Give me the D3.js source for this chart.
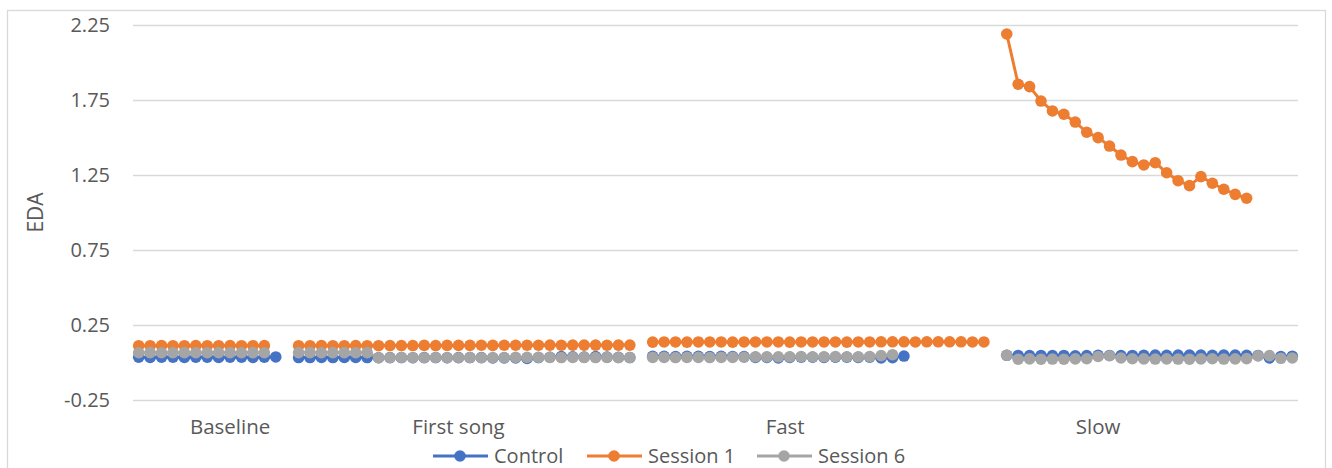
<!DOCTYPE html>
<html>
<head>
<meta charset="utf-8">
<script src="https://cdn.jsdelivr.net/npm/d3@7"></script>
<style>
  html, body { margin: 0; padding: 0; background: #fff; }
  svg { display: block; font-family: "Open Sans", "Liberation Sans", sans-serif; }
</style>
</head>
<body>
<svg id="chart" width="1332" height="468"></svg>
<script>
// ---- data ----
const seriesNames = ["Control", "Session 1", "Session 6"];
const seriesColors = ["#4472C4", "#ED7D31", "#A5A5A5"];

const categoryLabels = ["Baseline", "First song", "Fast", "Slow"];
const categoryLabelPos = [8, 28, 56.6, 84];

const yTicks = [-0.25, 0.25, 0.75, 1.25, 1.75, 2.25];
const yTickLabels = ["-0.25", "0.25", "0.75", "1.25", "1.75", "2.25"];

const N = null;
// 102 categories (index 0..101); null = blank category / missing
const control = [
  // Baseline 0-12
  0.035,0.034,0.035,0.035,0.034,0.035,0.035,0.034,0.035,0.035,0.034,0.035,0.037,
  N,
  // First song 14-43
  0.033,0.033,0.034,0.033,0.034,0.034,0.033,0.032,0.033,0.033,
  0.032,0.033,0.033,0.032,0.033,0.033,0.033,0.030,0.031,0.030,
  0.027,0.033,0.035,0.040,0.038,0.036,0.040,0.036,0.034,0.033,
  N,
  // Fast 45-67
  0.041,0.041,0.040,0.041,0.041,0.040,0.041,0.040,0.039,0.034,
  0.034,0.030,0.034,0.035,0.035,0.034,0.035,0.035,0.034,0.035,
  0.030,0.032,0.043,
  N,N,N,N,N,N,N,N,
  // Slow 76-101
  0.048,0.047,0.046,0.047,0.046,0.047,0.045,0.046,0.048,0.047,
  0.046,0.047,0.048,0.049,0.048,0.049,0.050,0.049,0.048,0.050,
  0.049,0.048,0.047,0.030,0.040,0.042
];
const session1 = [
  // Baseline 0-11
  0.112,0.112,0.113,0.112,0.112,0.113,0.112,0.112,0.113,0.112,0.112,0.113,
  N,N,
  // First song 14-43
  0.112,0.112,0.113,0.112,0.112,0.113,0.112,0.112,0.113,0.113,
  0.113,0.114,0.113,0.114,0.114,0.114,0.115,0.114,0.115,0.115,
  0.115,0.115,0.116,0.115,0.116,0.116,0.116,0.115,0.116,0.116,
  N,
  // Fast 45-74
  0.136,0.137,0.137,0.136,0.137,0.137,0.137,0.136,0.137,0.137,
  0.137,0.137,0.136,0.137,0.137,0.137,0.137,0.136,0.137,0.137,
  0.138,0.138,0.138,0.137,0.138,0.138,0.138,0.138,0.137,0.137,
  N,
  // Slow 76-97
  2.19,1.855,1.839,1.743,1.677,1.655,1.603,1.535,1.499,1.443,
  1.383,1.339,1.317,1.332,1.265,1.212,1.179,1.239,1.195,1.155,
  1.121,1.095,
  N,N,N,N
];
const session6 = [
  // Baseline 0-11
  0.065,0.066,0.065,0.065,0.066,0.065,0.065,0.066,0.065,0.065,0.066,0.065,
  N,N,
  // First song 14-43
  0.066,0.066,0.065,0.066,0.066,0.065,0.066,0.032,0.032,0.033,
  0.032,0.032,0.033,0.032,0.032,0.033,0.032,0.033,0.033,0.034,
  0.034,0.034,0.034,0.033,0.034,0.034,0.033,0.034,0.033,0.033,
  N,
  // Fast 45-66
  0.034,0.034,0.033,0.034,0.034,0.033,0.034,0.034,0.035,0.038,
  0.038,0.038,0.038,0.039,0.038,0.038,0.039,0.038,0.038,0.039,
  0.046,0.052,
  N,N,N,N,N,N,N,N,N,
  // Slow 76-101
  0.048,0.022,0.024,0.022,0.023,0.022,0.024,0.025,0.040,0.045,
  0.030,0.025,0.024,0.023,0.024,0.023,0.022,0.024,0.025,0.023,
  0.024,0.026,0.044,0.046,0.028,0.030
];
const seriesValues = [control, session1, session6];

// ---- layout ----
const svg = d3.select("#chart");
const plot = { left: 133, right: 1298, top: 25, bottom: 400 };
const nCat = control.length;

const x = d3.scaleLinear().domain([-0.5, nCat - 0.5]).range([plot.left, plot.right]);
const y = d3.scaleLinear().domain([-0.25, 2.25]).range([plot.bottom, plot.top]);

const textColor = "#595959";
const gridColor = "#D9D9D9";

// chart border
svg.append("rect")
  .attr("x", 7.5).attr("y", 10.5).attr("width", 1318).attr("height", 480)
  .attr("fill", "none").attr("stroke", gridColor).attr("stroke-width", 1.3);

// gridlines
svg.append("g")
  .selectAll("line").data(yTicks).join("line")
  .attr("x1", plot.left).attr("x2", plot.right)
  .attr("y1", d => Math.round(y(d)) + 0.5).attr("y2", d => Math.round(y(d)) + 0.5)
  .attr("stroke", gridColor).attr("stroke-width", 1.3);

// y axis labels
const yAxis = d3.axisLeft(y).tickValues(yTicks).tickSize(0).tickPadding(0)
  .tickFormat((d, i) => yTickLabels[i]);
const yg = svg.append("g").attr("transform", `translate(110,0)`).call(yAxis);
yg.select(".domain").remove();
yg.selectAll("text").attr("fill", textColor).attr("font-size", 20)
  .attr("font-family", "'Open Sans', sans-serif");

// y title
svg.append("text")
  .attr("transform", `translate(43,${(plot.top + plot.bottom) / 2}) rotate(-90)`)
  .attr("text-anchor", "middle")
  .attr("fill", textColor).attr("font-size", 21)
  .text("EDA");

// category labels
svg.append("g").selectAll("text").data(categoryLabels).join("text")
  .attr("x", (d, i) => x(categoryLabelPos[i]))
  .attr("y", 434)
  .attr("text-anchor", "middle")
  .attr("fill", textColor).attr("font-size", 20.5)
  .text(d => d);

// series
const line = d3.line()
  .defined(d => d.v !== null)
  .x(d => x(d.i)).y(d => y(d.v));

seriesValues.forEach((vals, s) => {
  const pts = vals.map((v, i) => ({ i, v }));
  const g = svg.append("g");
  g.append("path").datum(pts)
    .attr("d", line).attr("fill", "none")
    .attr("stroke", seriesColors[s]).attr("stroke-width", 3)
    .attr("stroke-linejoin", "round");
  g.selectAll("circle").data(pts.filter(p => p.v !== null)).join("circle")
    .attr("cx", p => x(p.i)).attr("cy", p => y(p.v)).attr("r", 5.8)
    .attr("fill", seriesColors[s]);
});

// legend
const legendX = [433, 587, 757];
const lg = svg.append("g");
seriesNames.forEach((name, s) => {
  const lx = legendX[s];
  lg.append("line").attr("x1", lx).attr("x2", lx + 55)
    .attr("y1", 456).attr("y2", 456)
    .attr("stroke", seriesColors[s]).attr("stroke-width", 3);
  lg.append("circle").attr("cx", lx + 27).attr("cy", 456).attr("r", 5.8)
    .attr("fill", seriesColors[s]);
  lg.append("text").attr("x", lx + 61).attr("y", 463)
    .attr("fill", textColor).attr("font-size", 20).text(name);
});
</script>
</body>
</html>
